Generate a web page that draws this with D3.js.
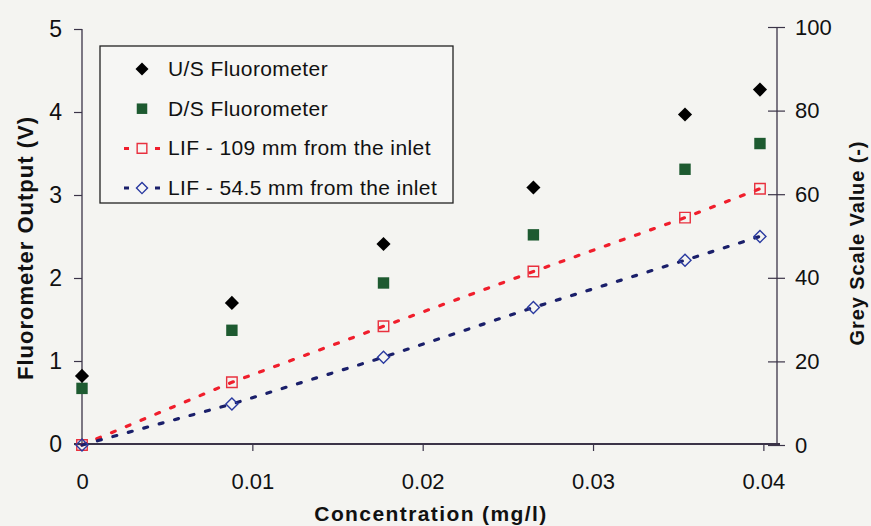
<!DOCTYPE html>
<html>
<head>
<meta charset="utf-8">
<script src="https://cdn.jsdelivr.net/npm/d3@7"></script>
<style>
  body { margin: 0; background: #f4f4f1; }
  svg { display: block; }
  text { font-family: "Liberation Sans", Arial, sans-serif; fill: #111; }
</style>
</head>
<body>
<div id="chart"></div>
<script>
// concentration (mg/l) of the six runs
var concentration = [0, 0.0088, 0.0177, 0.0265, 0.0354, 0.0398];
// fluorometer output (V), left axis
var usFluorometer = [0.82, 1.70, 2.41, 3.09, 3.97, 4.27];
var dsFluorometer = [0.67, 1.37, 1.94, 2.52, 3.31, 3.62];
// grey scale value (-), right axis
var lif109 = [0, 15.0, 28.4, 41.5, 54.4, 61.3];
var lif545 = [0, 9.8, 21.0, 32.9, 44.2, 49.9];

var xTicks = [0, 0.01, 0.02, 0.03, 0.04];
var leftTicks = [0, 1, 2, 3, 4, 5];
var rightTicks = [0, 20, 40, 60, 80, 100];

var width = 871, height = 526;
var margin = {left: 82, right: 94, top: 29, bottom: 82};

var svg = d3.select('#chart').append('svg')
  .attr('width', width)
  .attr('height', height);

var x = d3.scaleLinear().domain([0, 0.0408]).range([margin.left, width - margin.right]);
var yL = d3.scaleLinear().domain([0, 5]).range([height - margin.bottom, margin.top]);
var yR = d3.scaleLinear().domain([0, 100]).range([height - margin.bottom + 1, margin.top - 2]);

var axisColor = '#3b3448';

// x axis
var gx = svg.append('g')
  .attr('transform', 'translate(0,' + (height - margin.bottom) + ')')
  .call(d3.axisBottom(x).tickValues(xTicks).tickSize(7).tickPadding(22)
    .tickFormat(function(d) { return d === 0 ? '0' : d3.format('.2f')(d); }));
gx.select('.domain').attr('d', 'M' + (margin.left - 8) + ',0H' + (width - margin.right + 3))
  .attr('stroke', axisColor).attr('stroke-width', 2);
gx.selectAll('.tick line').attr('stroke', axisColor).attr('stroke-width', 1.2);
gx.selectAll('.tick').filter(function(d) { return d === 0; }).select('line').remove();
gx.selectAll('.tick text').attr('font-size', 22).attr('fill', '#111');

// left axis
var gl = svg.append('g')
  .attr('transform', 'translate(' + margin.left + ',0)')
  .call(d3.axisLeft(yL).tickValues(leftTicks).tickSize(8).tickPadding(12).tickFormat(d3.format('d')));
gl.select('.domain').attr('d', 'M0,' + yL(5) + 'V' + yL(0)).attr('stroke', axisColor).attr('stroke-width', 1.3);
gl.selectAll('.tick line').attr('stroke', axisColor).attr('stroke-width', 1.2);
gl.selectAll('.tick text').attr('font-size', 23).attr('fill', '#111');

// right axis, ticks cross the line
var gr = svg.append('g')
  .attr('transform', 'translate(' + (width - margin.right) + ',0)')
  .call(d3.axisRight(yR).tickValues(rightTicks).tickSize(8).tickPadding(10));
gr.select('.domain').attr('d', 'M0,' + yR(100) + 'V' + yR(0)).attr('stroke', axisColor).attr('stroke-width', 1.3);
gr.selectAll('.tick line').attr('x1', -9).attr('x2', 8).attr('stroke', axisColor).attr('stroke-width', 1.2);
gr.selectAll('.tick text').attr('font-size', 22).attr('fill', '#111');

// axis titles
svg.append('text')
  .attr('x', 431).attr('y', 521)
  .attr('text-anchor', 'middle')
  .attr('font-size', 21).attr('font-weight', 'bold')
  .attr('letter-spacing', 1.4)
  .text('Concentration (mg/l)');
svg.append('text')
  .attr('transform', 'translate(33,248) rotate(-90)')
  .attr('text-anchor', 'middle')
  .attr('font-size', 22).attr('font-weight', 'bold')
  .attr('letter-spacing', 1)
  .text('Fluorometer Output (V)');
svg.append('text')
  .attr('transform', 'translate(864,243) rotate(-90)')
  .attr('text-anchor', 'middle')
  .attr('font-size', 20).attr('font-weight', 'bold')
  .attr('letter-spacing', 0.9)
  .text('Grey Scale Value (-)');

var series = [
  {label: 'U/S Fluorometer', values: usFluorometer, y: yL, diamond: true, size: 100, fill: '#000', stroke: 'none', line: null},
  {label: 'D/S Fluorometer', values: dsFluorometer, y: yL, diamond: false, size: 130, fill: '#1d5a30', stroke: 'none', line: null},
  {label: 'LIF - 109 mm from the inlet', values: lif109, y: yR, diamond: false, size: 110, fill: 'none', stroke: '#e8303e', line: '#f01e2c'},
  {label: 'LIF - 54.5 mm from the inlet', values: lif545, y: yR, diamond: true, size: 72, fill: 'none', stroke: '#2a3aa0', line: '#1a1f6a'}
];

function markerTransform(s, px, py) {
  return 'translate(' + px + ',' + py + ')' + (s.diamond ? ' rotate(45)' : '');
}

series.forEach(function(s) {
  var pts = concentration.map(function(c, i) { return [x(c), s.y(s.values[i])]; });
  if (s.line) {
    svg.append('path')
      .attr('d', d3.line()(pts))
      .attr('fill', 'none')
      .attr('stroke', s.line)
      .attr('stroke-width', 3.2)
      .attr('stroke-linecap', 'round')
      .attr('stroke-dasharray', '4,12');
  }
  svg.selectAll(null).data(pts).enter().append('path')
    .attr('transform', function(p) { return markerTransform(s, p[0], p[1]); })
    .attr('d', d3.symbol().type(d3.symbolSquare).size(s.size))
    .attr('fill', s.fill)
    .attr('stroke', s.stroke)
    .attr('stroke-width', 1.4);
});

// legend
var legend = svg.append('g');
legend.append('rect')
  .attr('x', 100).attr('y', 46).attr('width', 353).attr('height', 157)
  .attr('fill', '#f6f6f4').attr('stroke', '#222').attr('stroke-width', 1.3);

series.forEach(function(s, i) {
  var cy = 69 + i * 39.7;
  if (s.line) {
    legend.append('path')
      .attr('d', 'M124,' + cy + 'H129M155,' + cy + 'H160')
      .attr('stroke', s.line).attr('stroke-width', 3);
  }
  legend.append('path')
    .attr('transform', markerTransform(s, 142, cy))
    .attr('d', d3.symbol().type(d3.symbolSquare).size(s.size * 0.85))
    .attr('fill', s.fill)
    .attr('stroke', s.stroke)
    .attr('stroke-width', 1.4);
  legend.append('text')
    .attr('x', 168).attr('y', cy + 7)
    .attr('font-size', 21)
    .attr('letter-spacing', 0.4)
    .text(s.label);
});
</script>
</body>
</html>
